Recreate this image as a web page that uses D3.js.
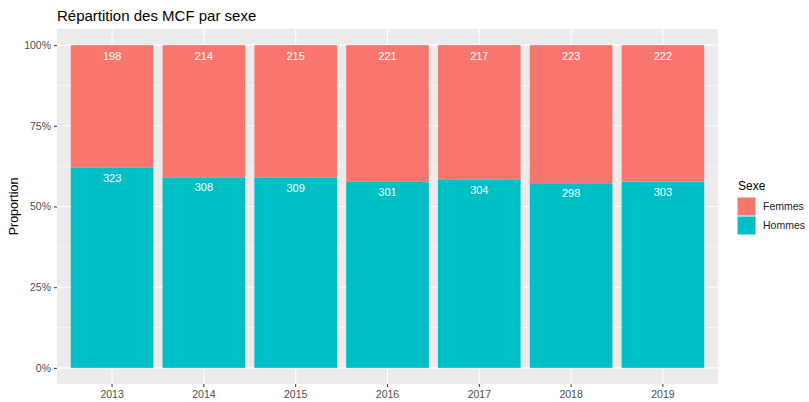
<!DOCTYPE html>
<html>
<head>
<meta charset="utf-8">
<script src="https://cdn.jsdelivr.net/npm/d3@7"></script>
<style>
  body { margin: 0; background: #fff; }
  svg { display: block; font-family: "Liberation Sans", Arial, sans-serif; }
</style>
</head>
<body>
<div id="chart"></div>
<script>
// données
const annees = ['2013', '2014', '2015', '2016', '2017', '2018', '2019'];
const femmes = [198, 214, 215, 221, 217, 223, 222];
const hommes = [323, 308, 309, 301, 304, 298, 303];
const yTicks = [0, 0.25, 0.5, 0.75, 1];
const yMinor = [0.125, 0.375, 0.625, 0.875];
const sexes = ['Femmes', 'Hommes'];
const couleurs = ['#F8766D', '#00BFC4'];

const width = 809, height = 402;
const panel = { left: 57, right: 718, top: 29, bottom: 384 };

const svg = d3.select('#chart').append('svg')
  .attr('width', width)
  .attr('height', height);

// échelles
const x = d3.scaleBand()
  .domain(annees)
  .range([panel.left, panel.right])
  .paddingInner(0.1)
  .paddingOuter(0.15);

const y = d3.scaleLinear()
  .domain([-0.05, 1.05])
  .range([panel.bottom, panel.top]);

// fond du panneau
svg.append('rect')
  .attr('x', panel.left)
  .attr('y', panel.top)
  .attr('width', panel.right - panel.left)
  .attr('height', panel.bottom - panel.top)
  .attr('fill', '#EBEBEB');

// grille
const grid = svg.append('g');
grid.selectAll('line.minor')
  .data(yMinor)
  .enter().append('line')
  .attr('x1', panel.left).attr('x2', panel.right)
  .attr('y1', d => y(d)).attr('y2', d => y(d))
  .attr('stroke', '#fff').attr('stroke-width', 0.55);
grid.selectAll('line.majorY')
  .data(yTicks)
  .enter().append('line')
  .attr('x1', panel.left).attr('x2', panel.right)
  .attr('y1', d => y(d)).attr('y2', d => y(d))
  .attr('stroke', '#fff').attr('stroke-width', 1.1);
grid.selectAll('line.majorX')
  .data(annees)
  .enter().append('line')
  .attr('x1', d => x(d) + x.bandwidth() / 2).attr('x2', d => x(d) + x.bandwidth() / 2)
  .attr('y1', panel.top).attr('y2', panel.bottom)
  .attr('stroke', '#fff').attr('stroke-width', 1.1);

// barres empilées en proportion
const rows = annees.map((a, i) => {
  const total = femmes[i] + hommes[i];
  return { annee: a, f: femmes[i], h: hommes[i], ph: hommes[i] / total };
});

const bars = svg.append('g');
bars.selectAll('rect.femmes')
  .data(rows)
  .enter().append('rect')
  .attr('x', d => x(d.annee))
  .attr('width', x.bandwidth())
  .attr('y', y(1))
  .attr('height', d => y(d.ph) - y(1))
  .attr('fill', couleurs[0]);
bars.selectAll('rect.hommes')
  .data(rows)
  .enter().append('rect')
  .attr('x', d => x(d.annee))
  .attr('width', x.bandwidth())
  .attr('y', d => y(d.ph))
  .attr('height', d => y(0) - y(d.ph))
  .attr('fill', couleurs[1]);

// étiquettes des effectifs
const labels = svg.append('g')
  .attr('fill', '#fff')
  .attr('font-size', '11px')
  .attr('text-anchor', 'middle');
labels.selectAll('text.f')
  .data(rows)
  .enter().append('text')
  .attr('x', d => x(d.annee) + x.bandwidth() / 2)
  .attr('y', y(1) + 15)
  .text(d => d.f);
labels.selectAll('text.h')
  .data(rows)
  .enter().append('text')
  .attr('x', d => x(d.annee) + x.bandwidth() / 2)
  .attr('y', d => y(d.ph) + 14)
  .text(d => d.h);

// axes
const yAxis = svg.append('g')
  .attr('transform', `translate(${panel.left},0)`)
  .call(d3.axisLeft(y).tickValues(yTicks).tickSize(3).tickPadding(3)
    .tickFormat(d => Math.round(d * 100) + '%'));
const xAxis = svg.append('g')
  .attr('transform', `translate(0,${panel.bottom})`)
  .call(d3.axisBottom(x).tickSize(3).tickPadding(4));

[yAxis, xAxis].forEach(ax => {
  ax.select('.domain').remove();
  ax.selectAll('.tick line').attr('stroke', '#333').attr('stroke-width', 1);
  ax.selectAll('.tick text')
    .attr('fill', '#4D4D4D')
    .style('font-size', '10.5px')
    .style('font-family', '"Liberation Sans", Arial, sans-serif');
});

// titres
svg.append('text')
  .attr('x', panel.left)
  .attr('y', 21)
  .attr('font-size', '15px')
  .attr('fill', '#000')
  .text('Répartition des MCF par sexe');

svg.append('text')
  .attr('transform', `translate(18,${(y(0) + y(1)) / 2}) rotate(-90)`)
  .attr('text-anchor', 'middle')
  .attr('font-size', '12.5px')
  .attr('fill', '#000')
  .text('Proportion');

// légende
const legend = svg.append('g')
  .attr('transform', 'translate(737,0)');
legend.append('text')
  .attr('x', 1)
  .attr('y', 190)
  .attr('font-size', '12px')
  .attr('fill', '#000')
  .text('Sexe');
sexes.forEach((s, i) => {
  const ky = 197.5 + i * 19;
  legend.append('rect')
    .attr('x', 0.5)
    .attr('y', ky)
    .attr('width', 18)
    .attr('height', 18)
    .attr('fill', couleurs[i]);
  legend.append('text')
    .attr('x', 26)
    .attr('y', ky + 9)
    .attr('dy', '0.35em')
    .attr('font-size', '10.5px')
    .attr('fill', '#1A1A1A')
    .text(s);
});
</script>
</body>
</html>
